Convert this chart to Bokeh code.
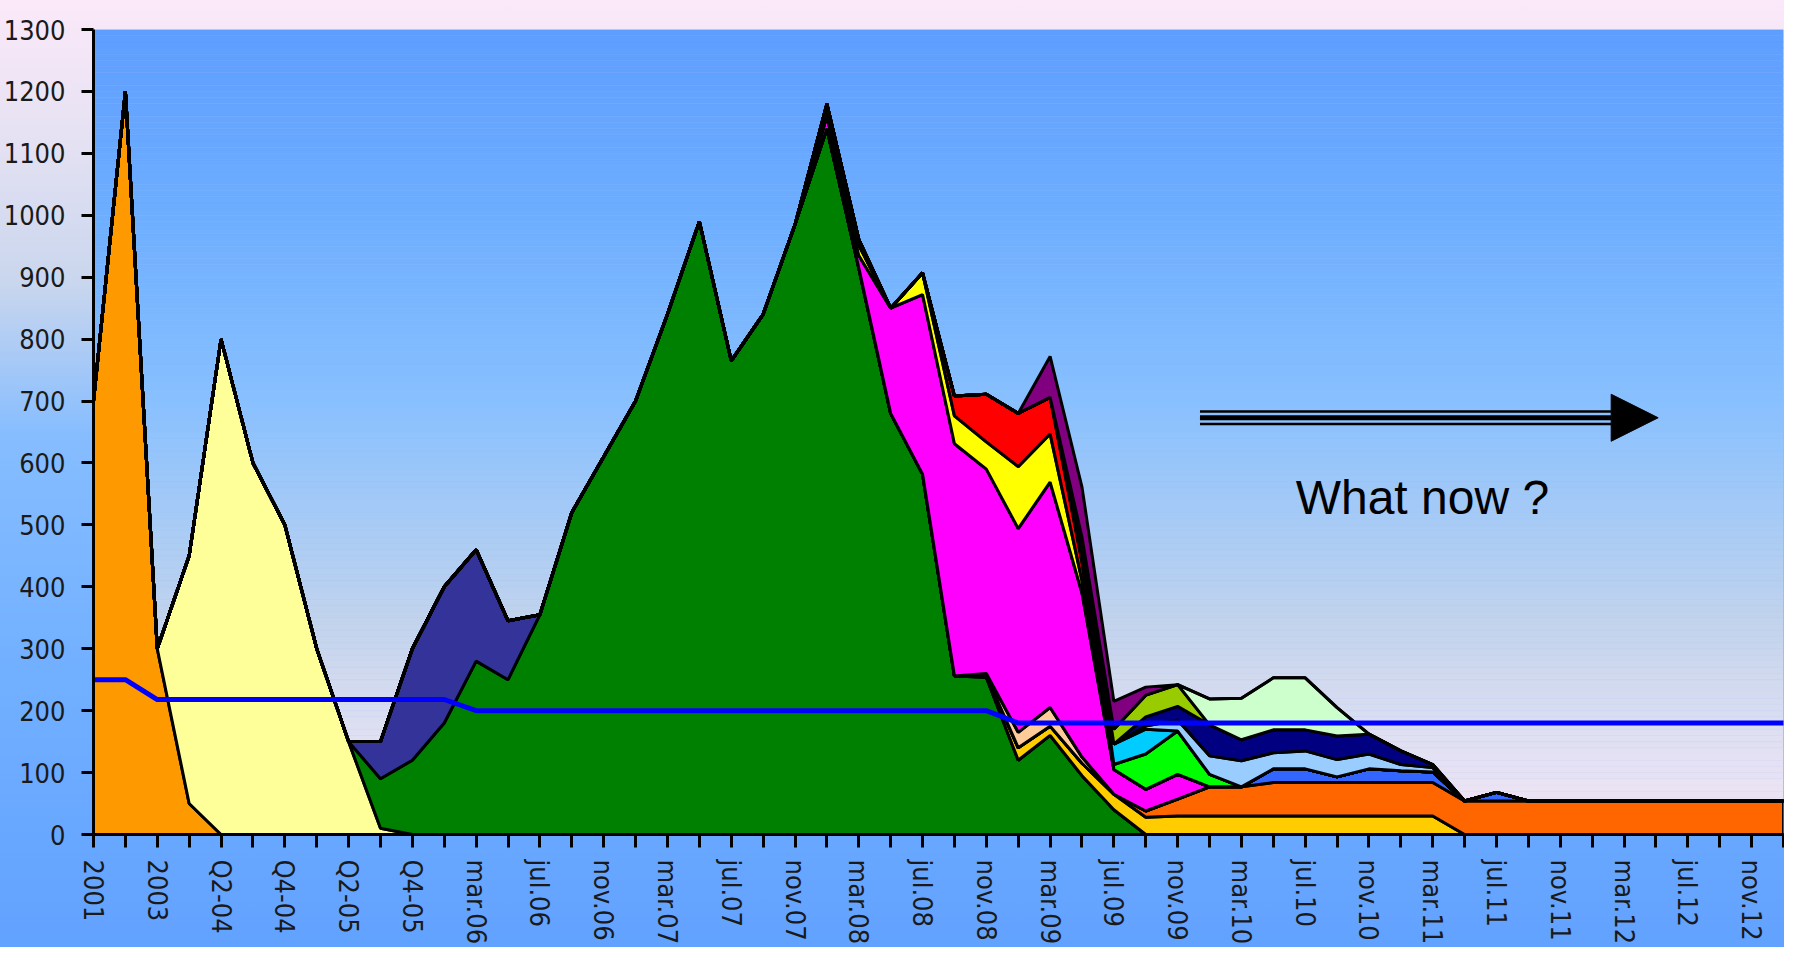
import numpy as np
from bokeh.plotting import figure
from bokeh.models import Range1d, FixedTicker, Arrow, NormalHead, Label
from bokeh.embed import file_html
from bokeh.resources import INLINE

categories = ["2001", "2002", "2003", "Q1-04", "Q2-04", "Q3-04", "Q4-04", "Q1-05", "Q2-05", "Q3-05", "Q4-05",
              "jan.06", "mar.06", "mai.06", "jul.06", "sep.06", "nov.06",
              "jan.07", "mar.07", "mai.07", "jul.07", "sep.07", "nov.07",
              "jan.08", "mar.08", "mai.08", "jul.08", "sep.08", "nov.08",
              "jan.09", "mar.09", "mai.09", "jul.09", "sep.09", "nov.09",
              "jan.10", "mar.10", "mai.10", "jul.10", "sep.10", "nov.10",
              "jan.11", "mar.11", "mai.11", "jul.11", "sep.11", "nov.11",
              "jan.12", "mar.12", "mai.12", "jul.12", "sep.12", "nov.12", "jan.13"]

#            0    1    2   3   4   5   6   7   8   9  10  11  12  13  14  15  16  17  18  19  20  21  22   23   24  25  26  27  28  29  30  31  32  33  34  35  36  37  38  39  40  41  42  43  44  45  46  47  48  49  50  51  52  53
s_orange = [700, 1200, 300, 50, 0, 0, 0, 0, 0, 0, 0, 0, 0, 0, 0, 0, 0, 0, 0, 0, 0, 0, 0, 0, 0, 0, 0, 0, 0, 0, 0, 0, 0, 0, 0, 0, 0, 0, 0, 0, 0, 0, 0, 0, 0, 0, 0, 0, 0, 0, 0, 0, 0, 0]
s_lyellow = [0, 0, 0, 400, 800, 600, 500, 300, 150, 10, 0, 0, 0, 0, 0, 0, 0, 0, 0, 0, 0, 0, 0, 0, 0, 0, 0, 0, 0, 0, 0, 0, 0, 0, 0, 0, 0, 0, 0, 0, 0, 0, 0, 0, 0, 0, 0, 0, 0, 0, 0, 0, 0, 0]
s_green = [0, 0, 0, 0, 0, 0, 0, 0, 0, 80, 120, 180, 280, 250, 355, 520, 610, 700, 840, 990, 765, 840, 985, 1140, 915, 680, 582, 256, 254, 120, 160, 95, 40, 0, 0, 0, 0, 0, 0, 0, 0, 0, 0, 0, 0, 0, 0, 0, 0, 0, 0, 0, 0, 0]
s_darkblue = [0, 0, 0, 0, 0, 0, 0, 0, 0, 60, 180, 220, 180, 95, 0, 0, 0, 0, 0, 0, 0, 0, 0, 0, 0, 0, 0, 0, 0, 0, 0, 0, 0, 0, 0, 0, 0, 0, 0, 0, 0, 0, 0, 0, 0, 0, 0, 0, 0, 0, 0, 0, 0, 0]
s_gold = [0, 0, 0, 0, 0, 0, 0, 0, 0, 0, 0, 0, 0, 0, 0, 0, 0, 0, 0, 0, 0, 0, 0, 0, 0, 0, 0, 0, 3, 20, 15, 20, 25, 28, 30, 30, 30, 30, 30, 30, 30, 30, 30, 0, 0, 0, 0, 0, 0, 0, 0, 0, 0, 0]
s_orangered = [0, 0, 0, 0, 0, 0, 0, 0, 0, 0, 0, 0, 0, 0, 0, 0, 0, 0, 0, 0, 0, 0, 0, 0, 0, 0, 0, 0, 0, 0, 0, 0, 0, 10, 27, 47, 47, 54, 54, 54, 54, 54, 54, 54, 54, 54, 54, 54, 54, 54, 54, 54, 54, 54]
s_royalblue = [0, 0, 0, 0, 0, 0, 0, 0, 0, 0, 0, 0, 0, 0, 0, 0, 0, 0, 0, 0, 0, 0, 0, 0, 0, 0, 0, 0, 0, 0, 0, 0, 0, 0, 0, 0, 0, 22, 22, 9, 22, 19, 17, 0, 14, 0, 0, 0, 0, 0, 0, 0, 0, 0]
s_peach = [0, 0, 0, 0, 0, 0, 0, 0, 0, 0, 0, 0, 0, 0, 0, 0, 0, 0, 0, 0, 0, 0, 0, 0, 0, 0, 0, 0, 3, 25, 30, 10, 0, 0, 0, 0, 0, 0, 0, 0, 0, 0, 0, 0, 0, 0, 0, 0, 0, 0, 0, 0, 0, 0]
s_magenta = [0, 0, 0, 0, 0, 0, 0, 0, 0, 0, 0, 0, 0, 0, 0, 0, 0, 0, 0, 0, 0, 0, 0, 20, 20, 170, 290, 375, 330, 329, 364, 265, 40, 35, 40, 0, 0, 0, 0, 0, 0, 0, 0, 0, 0, 0, 0, 0, 0, 0, 0, 0, 0, 0]
s_yellow = [0, 0, 0, 0, 0, 0, 0, 0, 0, 0, 0, 0, 0, 0, 0, 0, 0, 0, 0, 0, 0, 0, 0, 0, 17, 0, 35, 45, 44, 100, 78, 20, 0, 0, 0, 0, 0, 0, 0, 0, 0, 0, 0, 0, 0, 0, 0, 0, 0, 0, 0, 0, 0, 0]
s_red = [0, 0, 0, 0, 0, 0, 0, 0, 0, 0, 0, 0, 0, 0, 0, 0, 0, 0, 0, 0, 0, 0, 0, 0, 0, 0, 0, 32, 77, 86, 59, 30, 0, 0, 0, 0, 0, 0, 0, 0, 0, 0, 0, 0, 0, 0, 0, 0, 0, 0, 0, 0, 0, 0]
s_black = [0, 0, 0, 0, 0, 0, 0, 0, 0, 0, 0, 0, 0, 0, 0, 0, 0, 0, 0, 0, 0, 0, 0, 20, 9, 0, 0, 0, 0, 0, 0, 40, 0, 0, 0, 0, 0, 0, 0, 0, 0, 0, 0, 0, 0, 0, 0, 0, 0, 0, 0, 0, 0, 0]
s_brightgreen = [0, 0, 0, 0, 0, 0, 0, 0, 0, 0, 0, 0, 0, 0, 0, 0, 0, 0, 0, 0, 0, 0, 0, 0, 0, 0, 0, 0, 0, 0, 0, 0, 8, 57, 70, 20, 0, 0, 0, 0, 0, 0, 0, 0, 0, 0, 0, 0, 0, 0, 0, 0, 0, 0]
s_cyan = [0, 0, 0, 0, 0, 0, 0, 0, 0, 0, 0, 0, 0, 0, 0, 0, 0, 0, 0, 0, 0, 0, 0, 0, 0, 0, 0, 0, 0, 0, 0, 0, 33, 40, 0, 0, 0, 0, 0, 0, 0, 0, 0, 0, 0, 0, 0, 0, 0, 0, 0, 0, 0, 0]
s_lightblue = [0, 0, 0, 0, 0, 0, 0, 0, 0, 0, 0, 0, 0, 0, 0, 0, 0, 0, 0, 0, 0, 0, 0, 0, 0, 0, 0, 0, 0, 0, 0, 0, 0, 5, 18, 30, 42, 26, 29, 28, 24, 10, 7, 0, 0, 0, 0, 0, 0, 0, 0, 0, 0, 0]
s_navy = [0, 0, 0, 0, 0, 0, 0, 0, 0, 0, 0, 0, 0, 0, 0, 0, 0, 0, 0, 0, 0, 0, 0, 0, 0, 0, 0, 0, 0, 0, 0, 0, 0, 15, 22, 50, 34, 37, 34, 38, 32, 22, 5, 0, 0, 0, 0, 0, 0, 0, 0, 0, 0, 0]
s_olive = [0, 0, 0, 0, 0, 0, 0, 0, 0, 0, 0, 0, 0, 0, 0, 0, 0, 0, 0, 0, 0, 0, 0, 0, 0, 0, 0, 0, 0, 0, 0, 0, 24, 35, 35, 0, 0, 0, 0, 0, 0, 0, 0, 0, 0, 0, 0, 0, 0, 0, 0, 0, 0, 0]
s_lightgreen = [0, 0, 0, 0, 0, 0, 0, 0, 0, 0, 0, 0, 0, 0, 0, 0, 0, 0, 0, 0, 0, 0, 0, 0, 0, 0, 0, 0, 0, 0, 0, 0, 0, 0, 0, 42, 67, 84, 84, 46, 0, 0, 0, 0, 0, 0, 0, 0, 0, 0, 0, 0, 0, 0]
s_purple = [0, 0, 0, 0, 0, 0, 0, 0, 0, 0, 0, 0, 0, 0, 0, 0, 0, 0, 0, 0, 0, 0, 0, 0, 0, 0, 0, 0, 0, 0, 66, 81, 45, 13, 0, 0, 0, 0, 0, 0, 0, 0, 0, 0, 0, 0, 0, 0, 0, 0, 0, 0, 0, 0]

target_line = [250, 250, 218, 218, 218, 218, 218, 218, 218, 218, 218, 218, 200, 200, 200, 200, 200, 200, 200, 200, 200, 200, 200, 200, 200, 200, 200, 200, 200, 180, 180, 180, 180, 180, 180, 180, 180, 180, 180, 180, 180, 180, 180, 180, 180, 180, 180, 180, 180, 180, 180, 180, 180, 180]

stack = [
    (s_orange, "#ff9900"), (s_lyellow, "#ffff99"), (s_green, "#008000"), (s_darkblue, "#333399"),
    (s_gold, "#ffcc00"), (s_orangered, "#ff6600"), (s_royalblue, "#3366ff"), (s_peach, "#ffcc99"),
    (s_magenta, "#ff00ff"), (s_yellow, "#ffff00"), (s_red, "#ff0000"), (s_black, "#000000"),
    (s_brightgreen, "#00ff00"), (s_cyan, "#00ccff"), (s_lightblue, "#99ccff"), (s_navy, "#000080"),
    (s_olive, "#99cc00"), (s_lightgreen, "#ccffcc"), (s_purple, "#800080"),
]

x = np.arange(len(categories))
n_last = len(categories) - 1

p = figure(width=1784, height=947, x_range=Range1d(0, n_last), y_range=Range1d(0, 1300),
           output_backend="svg", toolbar_location=None,
           min_border_left=93, min_border_right=1, min_border_top=29, min_border_bottom=110)
p.border_fill_color = None
p.background_fill_color = None
p.outline_line_color = None
p.grid.visible = False
p.styles = {"background": "linear-gradient(to bottom, #fbe9f9 0%, #e6e2f3 14%, #c9d6ee 30%, #86bdff 46%, #72b0ff 70%, #62a2ff 100%)"}

# plot-area gradient (background strips)
stops_v = [0, 150, 330, 515, 700, 1000, 1300]
stops_c = ["#f4e6f6", "#e0e0f2", "#c4d4ec", "#a6caf6", "#88c0ff", "#6eaeff", "#5e9eff"]
def _rgb(h):
    return np.array([int(h[i:i + 2], 16) for i in (1, 3, 5)], dtype=float)
rgbs = np.array([_rgb(c) for c in stops_c])
edges = np.arange(0, 1301, 10)
mids = (edges[:-1] + edges[1:]) / 2
cols = []
for m in mids:
    rgb = [np.interp(m, stops_v, rgbs[:, k]) for k in range(3)]
    cols.append("#%02x%02x%02x" % tuple(int(round(v)) for v in rgb))
p.quad(left=0, right=n_last, bottom=edges[:-1], top=edges[1:], fill_color=cols, line_color=cols, line_width=0.5)

# stacked areas
base = np.zeros(len(x))
for vals, col in stack:
    v = np.array(vals, dtype=float)
    top = base + v
    xs = np.concatenate([x, x[::-1]])
    ys = np.concatenate([top, base[::-1]])
    p.patch(xs, ys, fill_color=col, line_color="black", line_width=3)
    base = top

p.line(x, target_line, line_color="#0000ff", line_width=5, line_join="round", line_cap="round")

# annotation arrow
ax0, ax1, atip, ay = 34.7, 47.6, 49.07, 673
p.segment(x0=[ax0, ax0, ax0], y0=[ay + 10, ay, ay - 10], x1=[ax1, ax1, ax1], y1=[ay + 10, ay, ay - 10],
          line_color="black", line_width=[2.5, 5, 2.5])
p.add_layout(Arrow(end=NormalHead(size=47, fill_color="black", line_color="black", line_width=1),
                   x_start=ax1 - 0.2, y_start=ay, x_end=atip, y_end=ay, line_color=None))
p.add_layout(Label(x=37.7, y=545, text="What now ?", text_font="Liberation Sans", text_font_size="48px",
                   text_color="black", text_baseline="middle", text_align="left"))

# axes
lab_font = "DejaVu Sans Condensed, Roboto"
p.yaxis.ticker = FixedTicker(ticks=list(range(0, 1301, 100)))
p.xaxis.ticker = FixedTicker(ticks=list(range(len(categories))))
p.xaxis.major_label_overrides = {i: (c if i % 2 == 0 else "") for i, c in enumerate(categories)}
p.xaxis.major_label_orientation = "vertical"
for ax in (p.xaxis, p.yaxis):
    ax.axis_line_color = "black"
    ax.axis_line_width = 3
    ax.major_tick_line_color = "black"
    ax.major_tick_line_width = 3
    ax.major_tick_in = 0
    ax.minor_tick_line_color = None
    ax.major_label_text_font = lab_font
    ax.major_label_text_color = "#1a1a1a"
p.yaxis.major_tick_out = 12
p.yaxis.major_label_standoff = 16
p.yaxis.major_label_text_font_size = "27px"
p.xaxis.major_tick_out = 13
p.xaxis.major_label_standoff = 12
p.xaxis.major_label_text_font_size = "27px"

open("out.html", "w").write(file_html(p, INLINE))
